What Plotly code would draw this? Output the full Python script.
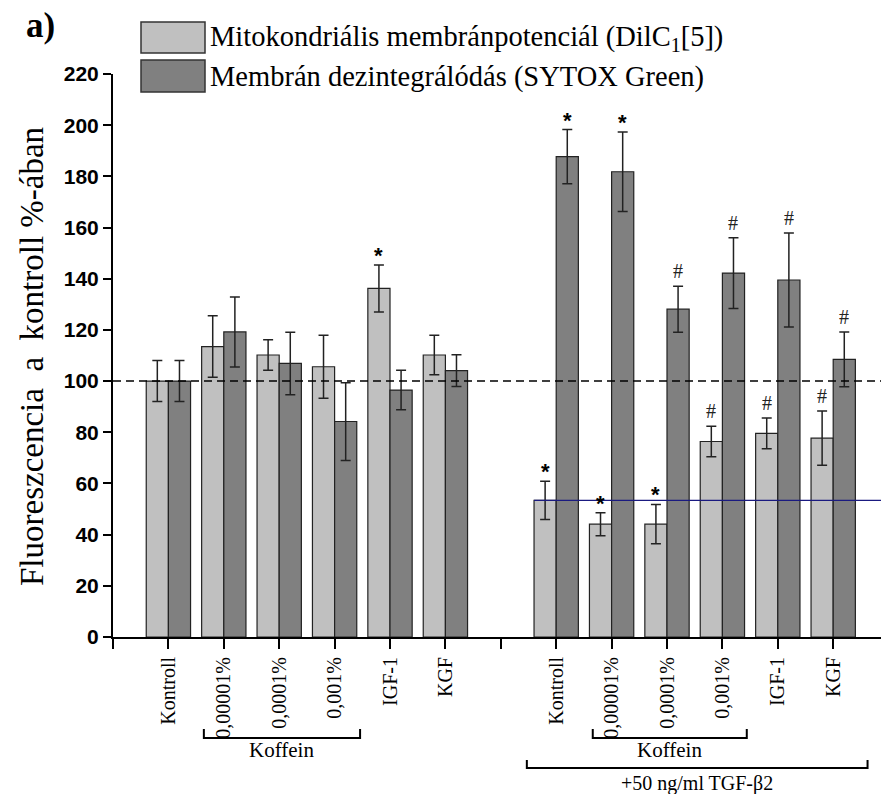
import plotly.graph_objects as go

# Treatment labels: untreated series and the TGF-beta2 treated series
categories = ["Kontroll", "0,00001%", "0,0001%", "0,001%", "IGF-1", "KGF"]
tgf_categories = ["Kontroll", "0,00001%", "0,0001%", "0,001%", "IGF-1", "KGF"]

# Mitochondrial membrane potential (DilC1[5]), % of control
mito = [100, 113.5, 110.2, 105.6, 136.2, 110.2, 53.4, 44.1, 44.1, 76.4, 79.6, 77.7]
mito_err = [8, 12, 6, 12.3, 9.2, 7.7, 7.5, 4.5, 7.7, 6, 6, 10.6]
mito_sig = ["", "", "", "", "*", "", "*", "*", "*", "#", "#", "#"]

# Membrane disintegration (SYTOX Green), % of control
sytox = [100, 119.2, 106.9, 84.2, 96.5, 104.1, 187.7, 181.8, 128.1, 142.2, 139.5, 108.5]
sytox_err = [8, 13.7, 12.2, 15.2, 7.7, 6.2, 10.6, 15.5, 9, 13.8, 18.4, 10.7]
sytox_sig = ["", "", "", "", "", "", "*", "*", "#", "#", "#", "#"]

y_ticks = list(range(0, 221, 20))

# x positions: 1..6 for the first block, an empty slot at 7, then 8..13
k = len(categories)
pos = list(range(1, k + 1)) + list(range(k + 2, k + 2 + len(tgf_categories)))

W, H = 881, 794
L, R, T, B = 113, 0, 74, 157
pw, ph = W - L - R, H - T - B
XMAX = pw / 55.4


def px(x):
    return (x - L) / pw


def py(y):
    return (H - B - y) / ph


LIGHT = "#c0c0c0"
DARK = "#808080"
SERIF = "Liberation Serif"
NB = "\u00a0"

fig = go.Figure()
fig.add_trace(go.Bar(
    x=pos, y=mito, name="Mitokondriális membránpotenciál (DilC<sub>1</sub>[5])",
    marker=dict(color=LIGHT, line=dict(color="#222222", width=1.2)),
    error_y=dict(type="data", array=mito_err, color="#222222", thickness=1.5, width=5),
    showlegend=False,
))
fig.add_trace(go.Bar(
    x=pos, y=sytox, name="Membrán dezintegrálódás (SYTOX Green)",
    marker=dict(color=DARK, line=dict(color="#222222", width=1.2)),
    error_y=dict(type="data", array=sytox_err, color="#222222", thickness=1.5, width=5),
    showlegend=False,
))

ann = []
shapes = []

# significance markers above the error bars
for i, p in enumerate(pos):
    for off, val, err, sig in ((-0.2, mito[i], mito_err[i], mito_sig[i]),
                               (0.2, sytox[i], sytox_err[i], sytox_sig[i])):
        if not sig:
            continue
        if sig == "*":
            font = dict(family="Liberation Sans", size=22, color="black", weight="bold")
            shift = -5
        else:
            font = dict(family=SERIF, size=20, color="#222222")
            shift = 2
        ann.append(dict(x=p + off, y=val + err, xref="x", yref="y", text=sig,
                        showarrow=False, yanchor="bottom", yshift=shift, font=font))

# reference line at 100 %
shapes.append(dict(type="line", xref="paper", yref="y", x0=0, x1=1, y0=100, y1=100,
                   line=dict(color="black", width=1.5, dash="8px,5px")))
# level of the TGF-beta2 control (mitochondrial potential)
shapes.append(dict(type="line", xref="x", yref="y", x0=pos[k] - 0.4, x1=XMAX,
                   y0=mito[k], y1=mito[k], line=dict(color="#1a1a80", width=1.2)))


def bracket(x0, x1, ybar, ytop, label, ylab, size):
    shapes.append(dict(type="path", xref="x", yref="paper",
                       path=f"M {x0},{py(ytop)} L {x0},{py(ybar)} L {x1},{py(ybar)} L {x1},{py(ytop)}",
                       line=dict(color="black", width=2)))
    ann.append(dict(x=(x0 + x1) / 2, y=py(ylab), xref="x", yref="paper", text=label,
                    showarrow=False, font=dict(family=SERIF, size=size, color="black"),
                    xanchor="center", yanchor="middle"))


bracket(pos[1] - 0.36, pos[3] + 0.46, 738, 729, "Koffein", 750, 21)
bracket(pos[k + 1] - 0.34, pos[k + 3] + 0.44, 738, 729, "Koffein", 750, 21)
bracket(pos[k] - 0.53, pos[-1] + 0.62, 768, 760, "+50 ng/ml TGF-β2", 783, 20)

# legend drawn as boxes with labels
for (y0, y1, col, text) in ((22, 53, LIGHT, fig.data[0].name),
                            (60, 92, DARK, fig.data[1].name)):
    shapes.append(dict(type="rect", xref="paper", yref="paper",
                       x0=px(141), x1=px(205), y0=py(y1), y1=py(y0),
                       fillcolor=col, line=dict(color="#333333", width=1.5)))
    ann.append(dict(x=px(208), y=py((y0 + y1) / 2 + 1), xref="paper", yref="paper",
                    text=text, showarrow=False, xanchor="left", yanchor="middle",
                    font=dict(family=SERIF, size=28.5, color="black")))

# panel letter
ann.append(dict(x=px(40), y=py(26), xref="paper", yref="paper", text="<b>a)</b>",
                showarrow=False, xanchor="center", yanchor="middle",
                font=dict(family=SERIF, size=35, color="black")))

# y-axis title
ytitle = f"Fluoreszcencia{NB}{NB}a{NB}{NB}kontroll{NB}%-ában"
ann.append(dict(x=px(32), y=py(357), xref="paper", yref="paper",
                text=ytitle, textangle=-90,
                showarrow=False, xanchor="center", yanchor="middle",
                font=dict(family=SERIF, size=33, color="black")))

fig.update_layout(
    width=W, height=H,
    margin=dict(l=L, r=R, t=T, b=B),
    paper_bgcolor="white", plot_bgcolor="white",
    barmode="group", bargap=0.2, bargroupgap=0,
    annotations=ann, shapes=shapes,
    showlegend=False,
)
fig.update_xaxes(
    range=[0, XMAX], tickmode="array",
    tickvals=pos, ticktext=categories + tgf_categories,
    tickangle=-90, ticks="outside", ticklen=10, tickwidth=2, tickcolor="black",
    minor=dict(tickvals=[0, k + 1], ticks="outside", ticklen=10, tickwidth=2,
               tickcolor="black", showgrid=False),
    showline=True, linewidth=2, linecolor="black", showgrid=False, zeroline=False,
    tickfont=dict(family=SERIF, size=20, color="black"),
)
fig.update_yaxes(
    range=[0, 220], tickmode="array", tickvals=y_ticks,
    ticks="outside", ticklen=8, tickwidth=2, tickcolor="black",
    showline=True, linewidth=2, linecolor="black", showgrid=False, zeroline=False,
    tickfont=dict(family="Liberation Sans", size=21, color="black", weight="bold"),
)

fig.write_html("out.html")
